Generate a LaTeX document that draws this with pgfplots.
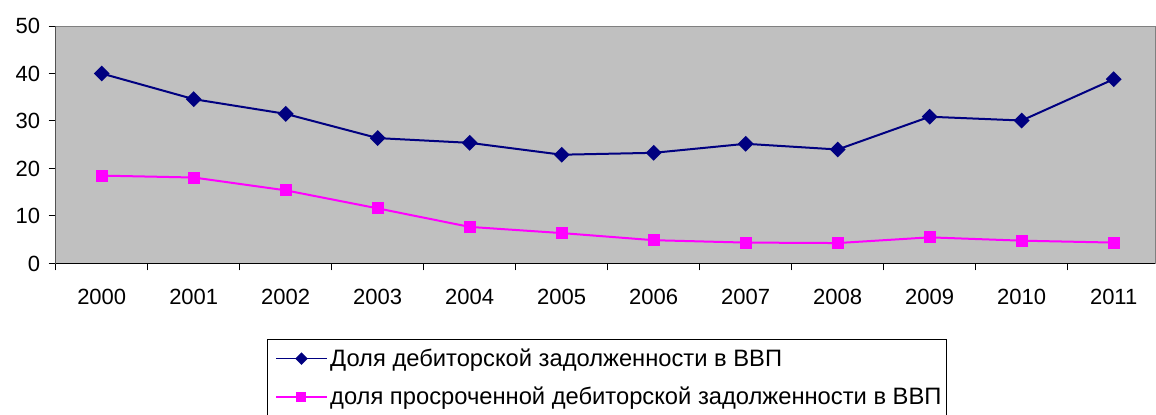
\documentclass[border=0pt]{standalone}
\usepackage{fontspec}
\setmainfont{Liberation Sans}
\usepackage{pgfplots}
\pgfplotsset{compat=1.18}
\definecolor{bgray}{HTML}{C0C0C0}
\definecolor{navyc}{HTML}{000080}
\definecolor{mag}{HTML}{FF00FF}
\definecolor{bordergray}{HTML}{808080}
\begin{document}
\begin{tikzpicture}
\begin{axis}[
  scale only axis, width=824.5pt, height=178.1pt,
  xmin=-0.5, xmax=11.45, ymin=0, ymax=50,
  axis background/.style={fill=bgray},
  axis line style={bordergray, line width=0.75pt},
  tick pos=left, tick align=outside,
  /pgf/number format/assume math mode=true,
  xtick={0,...,11},
  xticklabels={2000,2001,2002,2003,2004,2005,2006,2007,2008,2009,2010,2011},
  minor xtick={-0.5,0.5,...,10.5},
  minor tick length=5.25pt, major tick length=5.25pt,
  ytick={0,10,...,50},
  tick style={black, line width=0.75pt},
  major x tick style={draw=none},
  ticklabel style={font=\fontsize{16.5}{20}\selectfont},
  xticklabel style={yshift=-10.5pt},
  yticklabel style={xshift=-3pt},
  legend style={at={(0.1924,-0.318)}, anchor=north west, draw=black, line width=0.75pt,
    fill=white, font=\fontsize{17.8}{21}\selectfont, row sep=10pt, inner xsep=2pt, inner ysep=5pt},
  legend cell align=left,
]
\addplot[navyc, line width=1.5pt, mark=square*, mark size=3.45pt, mark options={rotate=45, solid},
  legend image code/.code={\path (0pt,0pt); \draw[navyc, line width=1.2pt] (3.5pt,0pt) -- (41.5pt,0pt);
     \fill[navyc] (22.5pt,0pt) ++(-3.6pt,0pt) -- ++(3.6pt,3.6pt) -- ++(3.6pt,-3.6pt) -- ++(-3.6pt,-3.6pt) -- cycle;}]
coordinates {(0,40.0)(1,34.6)(2,31.5)(3,26.4)(4,25.4)(5,22.9)(6,23.3)(7,25.2)(8,24.0)(9,30.9)(10,30.1)(11,38.8)};
\addlegendentry{Доля дебиторской задолженности в ВВП}
\addplot[mag, line width=1.5pt, mark=square*, mark size=3.75pt, mark options={solid},
  legend image code/.code={\path (0pt,0pt); \draw[mag, line width=1.2pt] (3.5pt,0pt) -- (41.5pt,0pt);
     \fill[mag] (19.5pt,-3pt) rectangle (25.5pt,3pt);}]
coordinates {(0,18.5)(1,18.1)(2,15.4)(3,11.6)(4,7.7)(5,6.4)(6,4.9)(7,4.4)(8,4.3)(9,5.5)(10,4.8)(11,4.4)};
\addlegendentry{доля просроченной дебиторской задолженности в ВВП}
\draw[black, line width=0.75pt] (rel axis cs:0,1) -- (rel axis cs:0,0) -- (rel axis cs:1,0);
\end{axis}
\pgfresetboundingbox
\useasboundingbox (-41.8pt,-113.6pt) rectangle (825.2pt,197.6pt);
\end{tikzpicture}
\end{document}
